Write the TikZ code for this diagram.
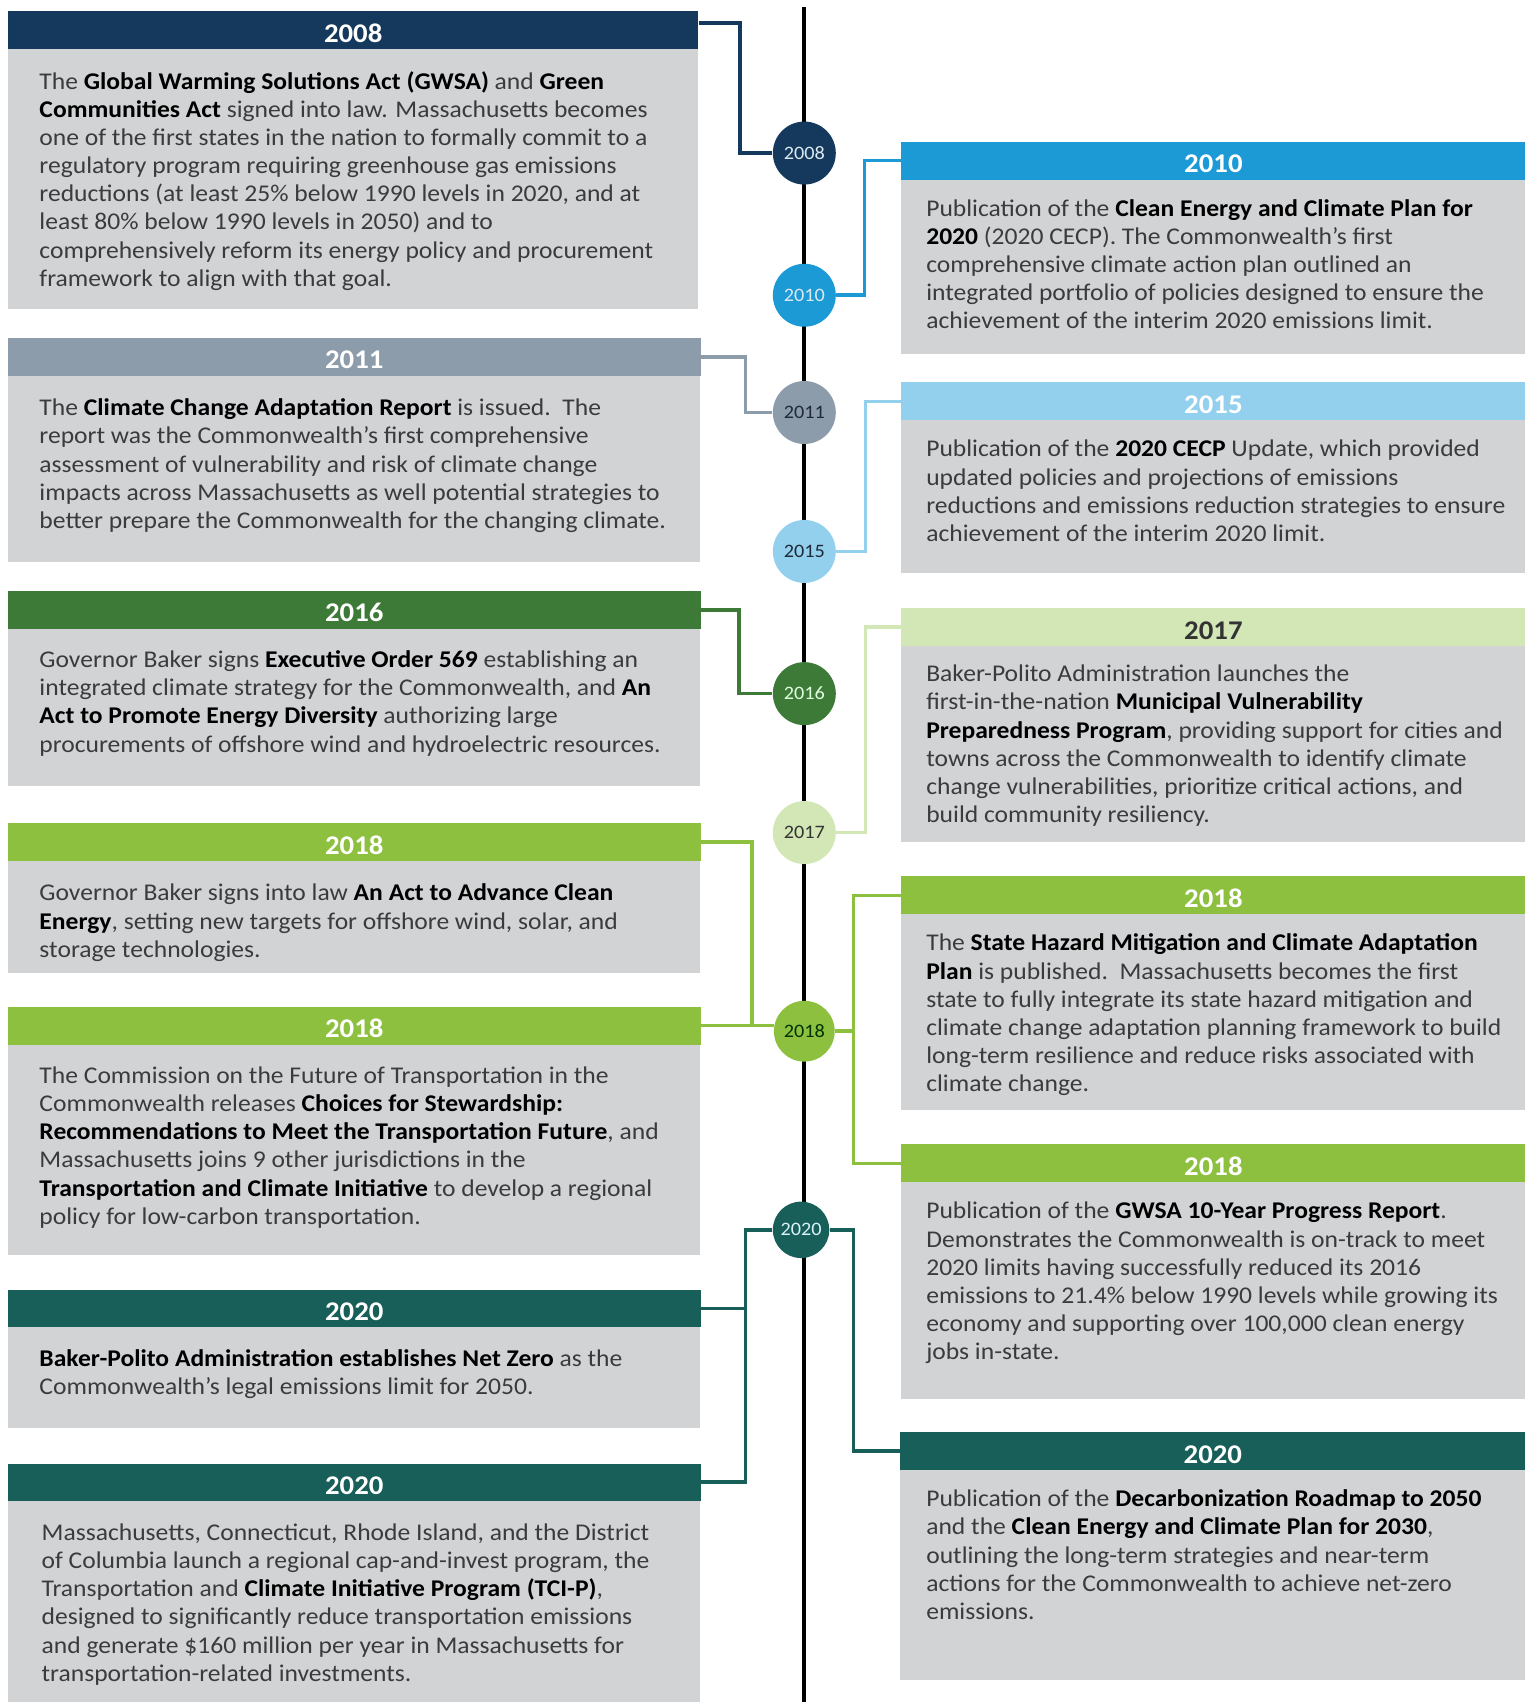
\documentclass[tikz,border=0pt]{standalone}
\usepackage{fontspec}
\setmainfont{Carlito}[FakeStretch=1.066]
\usetikzlibrary{calc}
\definecolor{navy}{HTML}{15395C}
\definecolor{tlblue}{HTML}{1B9AD6}
\definecolor{tlgray}{HTML}{8D9CAB}
\definecolor{tllblue}{HTML}{93D0EE}
\definecolor{tldgreen}{HTML}{3E7A37}
\definecolor{tlpgreen}{HTML}{D3E6B6}
\definecolor{tlgreen}{HTML}{8DC03F}
\definecolor{tlteal}{HTML}{175F58}
\definecolor{bodygray}{HTML}{D1D3D5}
\definecolor{bodytext}{HTML}{3B3B3B}
\definecolor{lbllight}{HTML}{DCE8F0}
\definecolor{lbldark}{HTML}{1E2A38}
\newcommand\bb[1]{\textcolor{black}{\textbf{#1}}}
\newcommand\lines[1]{\begin{tabular}[t]{@{}l@{}}#1\end{tabular}}
\newcommand\evt[9]{%
  \fill[bodygray] (#2,#5) rectangle (#3,#6);
  \node[hdr, fill=#7, text=#8, minimum width={(#3-#2)*0.5429pt}, minimum height={(#5-#4)*0.5429pt}] (#1) at (#2,#4) {#9};}
\begin{document}
\begin{tikzpicture}[x=0.5429pt,y=-0.5429pt,
  hdr/.style={rectangle, inner sep=0, anchor=north west, text height=12pt, text depth=0pt, font=\fontsize{13.5}{16}\selectfont\bfseries},
  body/.style={anchor=base west, inner sep=0, font=\fontsize{12}{14.1}\selectfont, text=bodytext},
  yr/.style={circle, inner sep=0, minimum size={58*0.5429pt}, font=\fontsize{9.5}{11}\selectfont},
  conn/.style={line width=1.8pt}]
\useasboundingbox (0,0) rectangle (1410,1568);
% timeline
\coordinate (ttop) at (741,6);
\coordinate (tbot) at (741,1568);
\draw[line width=2pt, black] (ttop) -- (tbot);
% boxes
\evt{h2008}{7}{643}{10}{45}{285}{navy}{white}{2008}
\evt{h2011}{7}{645}{311}{346}{518}{tlgray}{white}{2011}
\evt{h2016}{7}{645}{544}{579}{724}{tldgreen}{white}{2016}
\evt{h2018a}{7}{645}{758}{793}{896}{tlgreen}{white}{2018}
\evt{h2018b}{7}{645}{927}{962}{1156}{tlgreen}{white}{2018}
\evt{h2020a}{7}{645}{1188}{1222}{1316}{tlteal}{white}{2020}
\evt{h2020b}{7}{645}{1348}{1382}{1568}{tlteal}{white}{2020}
\evt{h2010}{830}{1405}{130}{165}{326}{tlblue}{white}{2010}
\evt{h2015}{830}{1405}{352}{387}{528}{tllblue}{white}{2015}
\evt{h2017}{830}{1405}{560}{595}{776}{tlpgreen}{black!80}{2017}
\evt{h2018c}{830}{1405}{807}{842}{1023}{tlgreen}{white}{2018}
\evt{h2018d}{830}{1405}{1054}{1089}{1289}{tlgreen}{white}{2018}
\evt{h2020c}{829}{1405}{1319}{1354}{1548}{tlteal}{white}{2020}
% circle positions
\coordinate (p2008) at (741,141);
\coordinate (p2010) at (741,272);
\coordinate (p2011) at (741,380);
\coordinate (p2015) at (741,508);
\coordinate (p2016) at (741,639);
\coordinate (p2017) at (741,767);
\coordinate (p2018) at (741,950);
\coordinate (p2020) at (738,1133);
% invisible circle nodes for anchors
\path node[yr] (c2008) at (p2008) {} node[yr] (c2010) at (p2010) {}
  node[yr] (c2011) at (p2011) {} node[yr] (c2015) at (p2015) {}
  node[yr] (c2016) at (p2016) {} node[yr] (c2017) at (p2017) {}
  node[yr, minimum size={56*0.5429pt}] (c2018) at (p2018) {}
  node[yr, minimum size={52*0.5429pt}] (c2020) at (p2020) {};
% connectors
\draw[conn, navy] (h2008.east) ++(0,-6.5) -- ++(38,0) |- (c2008.west);
\draw[conn, tlblue] (c2010.east) -- ++(26,0) |- (h2010.west);
\draw[conn, tlgray] (h2011.east) -- ++(41,0) |- (c2011.west);
\draw[conn, tllblue] (c2015.east) -- ++(27,0) |- (h2015.west);
\draw[conn, tldgreen] (h2016.east) -- ++(35,0) |- (c2016.west);
\draw[conn, tlpgreen] (c2017.east) -- ++(27,0) |- (h2017.west);
\draw[conn, tlgreen] (h2018a.east) -- ++(47,0) |- (h2018b.east) -- (h2018b.east -| c2018.west);
\draw[conn, tlgreen] (c2018.east) -- ++(17,0) coordinate (j18);
\draw[conn, tlgreen] (h2018c.west) -| (j18) |- (h2018d.west);
\draw[conn, tlteal] (c2020.west) -- ++(-25,0) coordinate (j20l) |- (h2020b.east);
\draw[conn, tlteal] (h2020a.east) -- (h2020a.east -| j20l);
\draw[conn, tlteal] (c2020.east) -- ++(22,0) |- (h2020c.west);
% circles
\node[yr, fill=navy, text=lbllight] (y2008) at (p2008) {2008};
\node[yr, fill=tlblue, text=lbllight] (y2010) at (p2010) {2010};
\node[yr, fill=tlgray, text=lbldark] (y2011) at (p2011) {2011};
\node[yr, fill=tllblue, text=lbldark] (y2015) at (p2015) {2015};
\node[yr, fill=tldgreen, text=white!88!green] (y2016) at (p2016) {2016};
\node[yr, fill=tlpgreen, text=black!80] (y2017) at (p2017) {2017};
\node[yr, fill=tlgreen, text=black!80!green, minimum size={56*0.5429pt}] (y2018) at (p2018) {2018};
\node[yr, fill=tlteal, text=white!85!cyan, minimum size={52*0.5429pt}] (y2020) at (p2020) {2020};
% texts
\node[body] (t2008) at (36,82) {\lines{The \bb{Global Warming Solutions Act (GWSA)} and \bb{Green}\\
\bb{Communities Act} signed into law. Massachusetts becomes\\
one of the first states in the nation to formally commit to a\\
regulatory program requiring greenhouse gas emissions\\
reductions (at least 25\% below 1990 levels in 2020, and at\\
least 80\% below 1990 levels in 2050) and to\\
comprehensively reform its energy policy and procurement\\
framework to align with that goal.}};
\node[body] (t2010) at (853,199) {\lines{Publication of the \bb{Clean Energy and Climate Plan for}\\
\bb{2020} (2020 CECP). The Commonwealth’s first\\
comprehensive climate action plan outlined an\\
integrated portfolio of policies designed to ensure the\\
achievement of the interim 2020 emissions limit.}};
\node[body] (t2011) at (36,383) {\lines{The \bb{Climate Change Adaptation Report} is issued.\ \ The\\
report was the Commonwealth’s first comprehensive\\
assessment of vulnerability and risk of climate change\\
impacts across Massachusetts as well potential strategies to\\
better prepare the Commonwealth for the changing climate.}};
\node[body] (t2015) at (853,421) {\lines{Publication of the \bb{2020 CECP} Update, which provided\\
updated policies and projections of emissions\\
reductions and emissions reduction strategies to ensure\\
achievement of the interim 2020 limit.}};
\node[body] (t2016) at (36,615) {\lines{Governor Baker signs \bb{Executive Order 569} establishing an\\
integrated climate strategy for the Commonwealth, and \bb{An}\\
\bb{Act to Promote Energy Diversity} authorizing large\\
procurements of offshore wind and hydroelectric resources.}};
\node[body] (t2017) at (853,628) {\lines{Baker-Polito Administration launches the\\
first-in-the-nation \bb{Municipal Vulnerability}\\
\bb{Preparedness Program}, providing support for cities and\\
towns across the Commonwealth to identify climate\\
change vulnerabilities, prioritize critical actions, and\\
build community resiliency.}};
\node[body] (t2018a) at (36,830) {\lines{Governor Baker signs into law \bb{An Act to Advance Clean}\\
\bb{Energy}, setting new targets for offshore wind, solar, and\\
storage technologies.}};
\node[body] (t2018b) at (36,998) {\lines{The Commission on the Future of Transportation in the\\
Commonwealth releases \bb{Choices for Stewardship:}\\
\bb{Recommendations to Meet the Transportation Future}, and\\
Massachusetts joins 9 other jurisdictions in the\\
\bb{Transportation and Climate Initiative} to develop a regional\\
policy for low-carbon transportation.}};
\node[body] (t2018c) at (853,876) {\lines{The \bb{State Hazard Mitigation and Climate Adaptation}\\
\bb{Plan} is published.\ \ Massachusetts becomes the first\\
state to fully integrate its state hazard mitigation and\\
climate change adaptation planning framework to build\\
long-term resilience and reduce risks associated with\\
climate change.}};
\node[body] (t2018d) at (853,1123) {\lines{Publication of the \bb{GWSA 10-Year Progress Report}.\\
Demonstrates the Commonwealth is on-track to meet\\
2020 limits having successfully reduced its 2016\\
emissions to 21.4\% below 1990 levels while growing its\\
economy and supporting over 100,000 clean energy\\
jobs in-state.}};
\node[body] (t2020a) at (36,1259) {\lines{\bb{Baker-Polito Administration establishes Net Zero} as the\\
Commonwealth’s legal emissions limit for 2050.}};
\node[body] (t2020b) at (38,1419) {\lines{Massachusetts, Connecticut, Rhode Island, and the District\\
of Columbia launch a regional cap-and-invest program, the\\
Transportation and \bb{Climate Initiative Program (TCI-P)},\\
designed to significantly reduce transportation emissions\\
and generate \$160 million per year in Massachusetts for\\
transportation-related investments.}};
\node[body] (t2020c) at (853,1388) {\lines{Publication of the \bb{Decarbonization Roadmap to 2050}\\
and the \bb{Clean Energy and Climate Plan for 2030},\\
outlining the long-term strategies and near-term\\
actions for the Commonwealth to achieve net-zero\\
emissions.}};
\end{tikzpicture}
\end{document}
